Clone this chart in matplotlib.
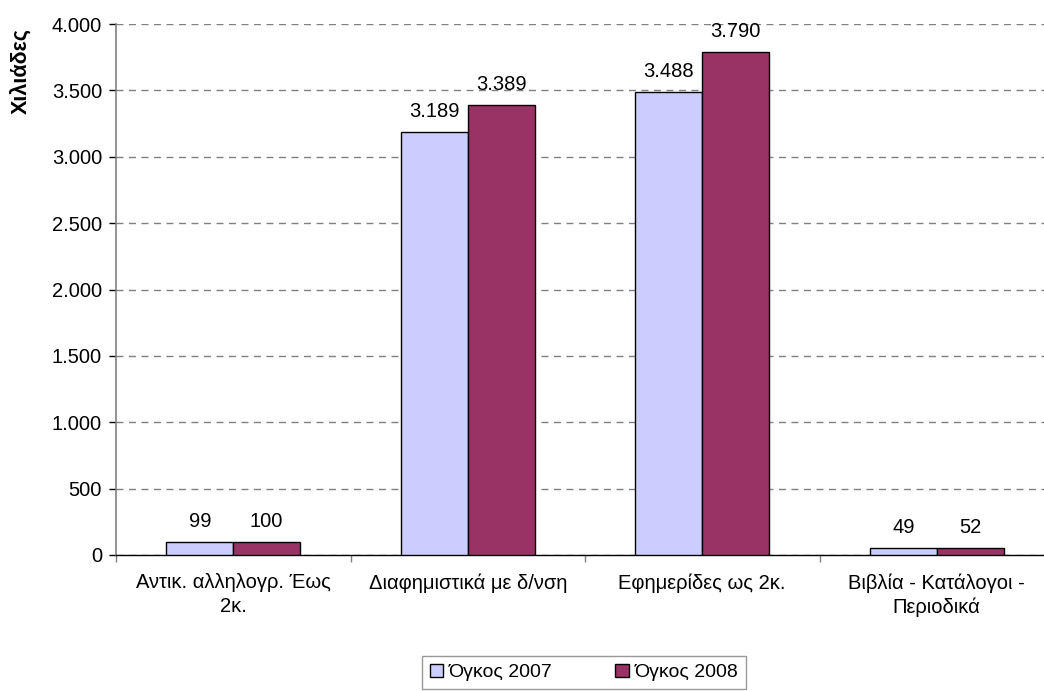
import matplotlib
matplotlib.use("Agg")
import matplotlib.pyplot as plt
import numpy as np
from matplotlib.ticker import FuncFormatter, MultipleLocator, FixedLocator

categories = ["Αντικ. αλληλογρ. Έως\n2κ.", "Διαφημιστικά με δ/νση",
              "Εφημερίδες ως 2κ.", "Βιβλία - Κατάλογοι -\nΠεριοδικά"]
series_names = ["Όγκος 2007", "Όγκος 2008"]
values_2007 = [99, 3189, 3488, 49]
values_2008 = [100, 3389, 3790, 52]
y_label = "Χιλιάδες"

FS = 14.5
plt.rcParams['font.family'] = ['Liberation Sans', 'DejaVu Sans']
plt.rcParams['font.size'] = FS

W, H = 1044, 691
fig = plt.figure(figsize=(W / 100, H / 100), dpi=100)
left, right, top, bottom = 116, 1054, 24, 555
ax = fig.add_axes([left / W, (H - bottom) / H, (right - left) / W, (bottom - top) / H])

x = np.arange(len(categories))
bw = 0.285
colors = ["#CCCCFF", "#993366"]
b1 = ax.bar(x - bw / 2, values_2007, bw, color=colors[0], edgecolor="black", linewidth=1.0,
            label=series_names[0], zorder=3)
b2 = ax.bar(x + bw / 2, values_2008, bw, color=colors[1], edgecolor="black", linewidth=1.0,
            label=series_names[1], zorder=3)

fmt = lambda v: f"{int(v):,}".replace(",", ".")
for bars, vals in ((b1, values_2007), (b2, values_2008)):
    for b, v in zip(bars, vals):
        ax.annotate(fmt(v), (b.get_x() + b.get_width() / 2, v), xytext=(0, 8),
                    textcoords="offset points", ha="center", va="bottom", fontsize=FS)

ax.set_xlim(-0.5, len(categories) - 0.5)
ax.set_ylim(0, 4000)
ax.yaxis.set_major_locator(MultipleLocator(500))
ax.yaxis.set_major_formatter(FuncFormatter(lambda v, p: fmt(v)))
ax.grid(axis="y", color="#808080", linestyle=(0, (5, 4)), linewidth=1.0, zorder=0)
ax.set_axisbelow(True)

ax.set_xticks(x)
ax.set_xticklabels(categories, linespacing=1.3)
ax.tick_params(axis="x", which="major", length=0, pad=13)
ax.xaxis.set_minor_locator(FixedLocator(np.arange(-0.5, len(categories), 1.0)))
ax.tick_params(axis="x", which="minor", length=5, width=1, color="#808080", direction="out")
ax.tick_params(axis="y", length=5, width=1, color="#000000", direction="out", pad=5)

for s in ("top", "right"):
    ax.spines[s].set_visible(False)
ax.spines["left"].set_color("#808080")
ax.spines["left"].set_linewidth(1.2)
ax.spines["bottom"].set_color("#000000")
ax.spines["bottom"].set_linewidth(1.0)

fig.text(21 / W, 1 - 71 / H, y_label, rotation=90, ha="center", va="center",
         fontsize=15.5, fontweight="bold")

leg = fig.legend(handles=[b1, b2], labels=series_names, loc="upper center",
                 bbox_to_anchor=(584 / W, 1 - 656 / H), borderaxespad=0, ncol=2, frameon=True,
                 fancybox=False, edgecolor="#808080", handlelength=0.7, handleheight=0.7,
                 handletextpad=0.3, columnspacing=3.2, borderpad=0.4, fontsize=14)
leg.get_frame().set_linewidth(1.0)

fig.savefig("out.png", dpi=100)
